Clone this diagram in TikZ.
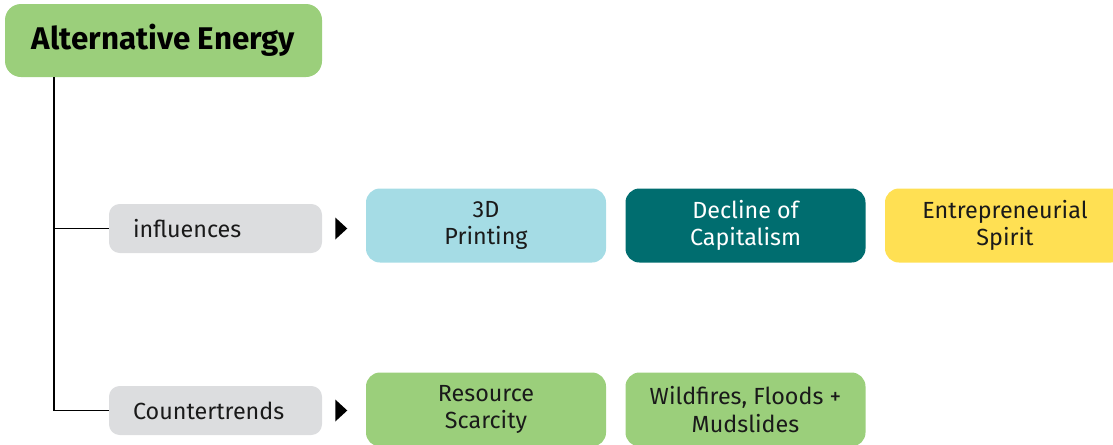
\documentclass[tikz,border=0pt]{standalone}
\usepackage{fontspec}
\setmainfont{Fira Sans}
\usetikzlibrary{calc}

\definecolor{leafgreen}{HTML}{9BCF7B}
\definecolor{skyblue}{HTML}{A5DCE5}
\definecolor{deepteal}{HTML}{006D6F}
\definecolor{sunyellow}{HTML}{FFE053}
\definecolor{labelgray}{HTML}{DCDDDF}
\definecolor{inkdark}{HTML}{1A1A1A}

\tikzset{
    topic/.style={rectangle, rounded corners=10.5pt, inner sep=0pt,
        minimum width=180pt, minimum height=55.5pt, align=center,
        font=\fontsize{17.5}{20.5}\selectfont, text=inkdark},
    relation/.style={rectangle, rounded corners=8pt, fill=labelgray, inner xsep=18pt,
        inner ysep=0pt, text width=123.75pt, minimum height=36.75pt, align=left,
        font=\fontsize{17.5}{20.5}\selectfont, text=inkdark},
}

\begin{document}
\begin{tikzpicture}[x=0.75pt, y=-0.75pt]
    % Page
    \useasboundingbox (0,0) rectangle (1113,444);

    % Main topic
    \node[rectangle, rounded corners=12pt, fill=leafgreen, minimum width=237.75pt,
        minimum height=54.75pt, inner sep=0pt, font=\fontsize{23.5}{28}\selectfont\bfseries]
        (energy) at (163.5,40.5) {Alternative Energy};

    % Relations
    \node[relation] (infl) at (215.5,228.5) {influences};
    \node[relation] (counter) at (215.5,410.5) {Countertrends};

    % Tree lines
    \draw[line width=1pt] (energy.south -| 54,0) |- (counter.west);
    \draw[line width=1pt] (54,0 |- infl.west) -- (infl.west);

    % Markers
    \foreach \r in {infl, counter}
        \fill[black] ($(\r.east)+(13,-11)$) -- ++(12,11) -- ++(-12,11) -- cycle;

    % Influences
    \node[topic, fill=skyblue] (print) at (486,225.5) {3D\\Printing};
    \node[topic, fill=deepteal, text=white] (decline) at (745.5,225.5) {Decline of\\Capitalism};
    \node[topic, fill=sunyellow] (spirit) at (1005,225.5) {Entrepreneurial\\Spirit};

    % Countertrends
    \node[topic, fill=leafgreen] (scarcity) at (486,409.5) {Resource\\Scarcity};
    \node[topic, fill=leafgreen] (wildfires) at (745.5,409.5) {Wildfires, Floods +\\Mudslides};

\end{tikzpicture}
\end{document}
